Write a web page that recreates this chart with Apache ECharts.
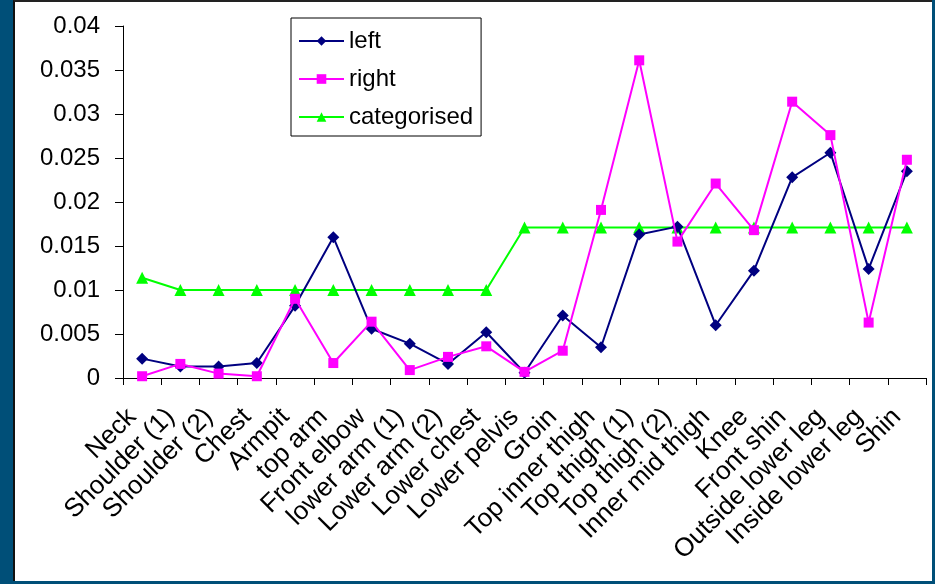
<!DOCTYPE html>
<html>
<head>
<meta charset="utf-8">
<script src="https://cdn.jsdelivr.net/npm/echarts@6/dist/echarts.min.js"></script>
<style>
  html, body { margin: 0; padding: 0; width: 935px; height: 584px; overflow: hidden; background: #004f78; }
  #frame { position: absolute; left: 13px; top: 0; width: 919px; height: 581px; background: #ffffff;
           border-left: 2px solid #111; border-top: 2px solid #222; box-sizing: border-box; }
  #chart { position: absolute; left: 0; top: 0; width: 935px; height: 584px; }
</style>
</head>
<body>
<div id="frame"></div>
<div id="chart"></div>
<script>
// Body regions measured
const categories = [
  'Neck', 'Shoulder (1)', 'Shoulder (2)', 'Chest', 'Armpit', 'top arm', 'Front elbow',
  'lower arm (1)', 'Lower arm (2)', 'Lower chest', 'Lower pelvis', 'Groin', 'Top inner thigh',
  'Top thigh (1)', 'Top thigh (2)', 'Inner mid thigh', 'Knee', 'Front shin',
  'Outside lower leg', 'Inside lower leg', 'Shin'
];

const leftValues = [
  0.0022, 0.0013, 0.0013, 0.0017, 0.0082, 0.0160, 0.0056,
  0.0039, 0.0016, 0.0052, 0.0006, 0.0071, 0.0035,
  0.0163, 0.0172, 0.0060, 0.0122, 0.0228,
  0.0256, 0.0124, 0.0235
];

const rightValues = [
  0.0002, 0.0016, 0.0005, 0.0002, 0.0090, 0.0017, 0.0064,
  0.0009, 0.0024, 0.0036, 0.0007, 0.0031, 0.0191,
  0.0361, 0.0155, 0.0221, 0.0168, 0.0314,
  0.0276, 0.0063, 0.0248
];

const categorisedValues = [
  0.0114, 0.0100, 0.0100, 0.0100, 0.0100, 0.0100, 0.0100,
  0.0100, 0.0100, 0.0100, 0.0171, 0.0171, 0.0171,
  0.0171, 0.0171, 0.0171, 0.0171, 0.0171,
  0.0171, 0.0171, 0.0171
];

const yTicks = { min: 0, max: 0.04, interval: 0.005 };

const FONT = 'Liberation Sans, Arial, sans-serif';

const chart = echarts.init(document.getElementById('chart'), null, { renderer: 'canvas' });

chart.setOption({
  animation: false,
  backgroundColor: 'transparent',
  textStyle: { fontFamily: FONT, color: '#000' },
  grid: { left: 123, right: 9, top: 26, bottom: 206, containLabel: false },
  legend: {
    orient: 'vertical',
    left: 291,
    top: 18,
    padding: [10, 8, 6, 7],
    itemGap: 12,
    itemWidth: 45,
    itemHeight: 12,
    borderColor: '#000',
    borderWidth: 1,
    backgroundColor: '#fff',
    textStyle: { fontFamily: FONT, fontSize: 24, color: '#000', lineHeight: 26 },
    data: ['left', 'right', 'categorised']
  },
  xAxis: {
    type: 'category',
    data: categories,
    boundaryGap: true,
    axisLine: { lineStyle: { color: '#000', width: 1 } },
    axisTick: { show: true, length: 7, alignWithLabel: false, lineStyle: { color: '#000' } },
    axisLabel: {
      interval: 0,
      rotate: 45,
      margin: 25,
      padding: [0, 14, 0, 0],
      fontFamily: FONT,
      fontSize: 26,
      color: '#000'
    },
    splitLine: { show: false }
  },
  yAxis: {
    type: 'value',
    min: yTicks.min,
    max: yTicks.max,
    interval: yTicks.interval,
    axisLine: { show: true, lineStyle: { color: '#000', width: 1 } },
    axisTick: { show: true, length: 8, lineStyle: { color: '#000' } },
    axisLabel: { margin: 23, fontFamily: FONT, fontSize: 24, color: '#000' },
    splitLine: { show: false }
  },
  series: [
    {
      name: 'left',
      type: 'line',
      data: leftValues,
      symbol: 'diamond',
      symbolSize: 12,
      showAllSymbol: true,
      lineStyle: { color: '#000080', width: 2 },
      itemStyle: { color: '#000080' },
      z: 3
    },
    {
      name: 'right',
      type: 'line',
      data: rightValues,
      symbol: 'rect',
      symbolSize: 10,
      showAllSymbol: true,
      lineStyle: { color: '#ff00ff', width: 2 },
      itemStyle: { color: '#ff00ff' },
      z: 4
    },
    {
      name: 'categorised',
      type: 'line',
      data: categorisedValues,
      symbol: 'triangle',
      symbolSize: 12,
      showAllSymbol: true,
      lineStyle: { color: '#00ff00', width: 2 },
      itemStyle: { color: '#00ff00' },
      z: 2
    }
  ]
});
</script>
</body>
</html>
